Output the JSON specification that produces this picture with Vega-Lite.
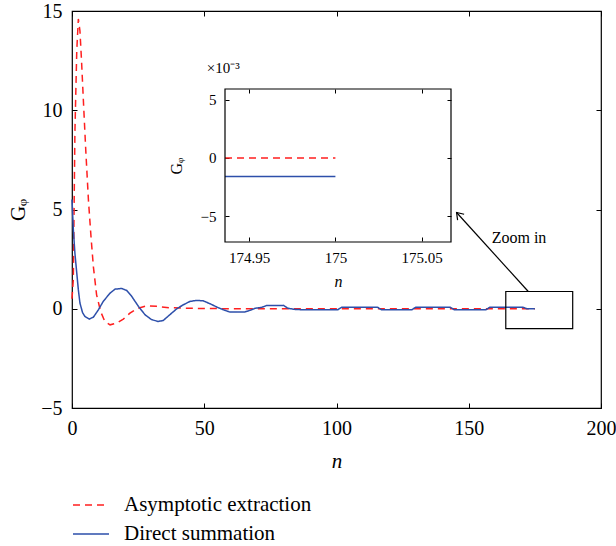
{
  "$schema": "https://vega.github.io/schema/vega-lite/v6.json",
  "autosize": "none",
  "width": 529,
  "height": 397,
  "padding": {"left": 72, "top": 11, "right": 15, "bottom": 138},
  "background": "white",
  "config": {
    "view": {"stroke": "black", "strokeWidth": 1.2},
    "font": "Liberation Serif"
  },
  "datasets": {
    "main": [
      {"series": "Asymptotic extraction", "n": 0, "G": 0.5},
      {"series": "Asymptotic extraction", "n": 0.5, "G": 1.5},
      {"series": "Asymptotic extraction", "n": 1.1, "G": 8.9},
      {"series": "Asymptotic extraction", "n": 1.8, "G": 13},
      {"series": "Asymptotic extraction", "n": 2.4, "G": 14.6},
      {"series": "Asymptotic extraction", "n": 3.0, "G": 14},
      {"series": "Asymptotic extraction", "n": 3.6, "G": 12.5},
      {"series": "Asymptotic extraction", "n": 4.3, "G": 10.5},
      {"series": "Asymptotic extraction", "n": 5.2, "G": 8},
      {"series": "Asymptotic extraction", "n": 6.2, "G": 5.5},
      {"series": "Asymptotic extraction", "n": 7.2, "G": 3.6},
      {"series": "Asymptotic extraction", "n": 8.1, "G": 2.1},
      {"series": "Asymptotic extraction", "n": 9.3, "G": 0.7},
      {"series": "Asymptotic extraction", "n": 10.8, "G": -0.13},
      {"series": "Asymptotic extraction", "n": 12.4, "G": -0.64},
      {"series": "Asymptotic extraction", "n": 14.4, "G": -0.81},
      {"series": "Asymptotic extraction", "n": 16.9, "G": -0.72},
      {"series": "Asymptotic extraction", "n": 19.4, "G": -0.52},
      {"series": "Asymptotic extraction", "n": 21.9, "G": -0.22},
      {"series": "Asymptotic extraction", "n": 24.5, "G": 0},
      {"series": "Asymptotic extraction", "n": 28.2, "G": 0.15},
      {"series": "Asymptotic extraction", "n": 32, "G": 0.12},
      {"series": "Asymptotic extraction", "n": 37, "G": 0.05},
      {"series": "Asymptotic extraction", "n": 45, "G": 0.02},
      {"series": "Asymptotic extraction", "n": 60, "G": 0},
      {"series": "Asymptotic extraction", "n": 175, "G": 0},
      {"series": "Direct summation", "n": 0, "G": 5.5},
      {"series": "Direct summation", "n": 0.5, "G": 4.0},
      {"series": "Direct summation", "n": 1.1, "G": 2.8},
      {"series": "Direct summation", "n": 1.8, "G": 1.8},
      {"series": "Direct summation", "n": 2.4, "G": 0.96},
      {"series": "Direct summation", "n": 3.0, "G": 0.29},
      {"series": "Direct summation", "n": 4.0, "G": -0.2},
      {"series": "Direct summation", "n": 4.9, "G": -0.39},
      {"series": "Direct summation", "n": 6.5, "G": -0.52},
      {"series": "Direct summation", "n": 8.1, "G": -0.42},
      {"series": "Direct summation", "n": 10, "G": -0.05},
      {"series": "Direct summation", "n": 11.8, "G": 0.37},
      {"series": "Direct summation", "n": 14.4, "G": 0.79},
      {"series": "Direct summation", "n": 16.3, "G": 0.99},
      {"series": "Direct summation", "n": 18.8, "G": 1.02},
      {"series": "Direct summation", "n": 20.7, "G": 0.92},
      {"series": "Direct summation", "n": 22.6, "G": 0.62},
      {"series": "Direct summation", "n": 25.1, "G": 0.12},
      {"series": "Direct summation", "n": 27.6, "G": -0.3},
      {"series": "Direct summation", "n": 30.1, "G": -0.55},
      {"series": "Direct summation", "n": 32.6, "G": -0.64},
      {"series": "Direct summation", "n": 34.5, "G": -0.59},
      {"series": "Direct summation", "n": 37, "G": -0.3},
      {"series": "Direct summation", "n": 39.6, "G": 0},
      {"series": "Direct summation", "n": 42.1, "G": 0.2},
      {"series": "Direct summation", "n": 44.6, "G": 0.37},
      {"series": "Direct summation", "n": 47.1, "G": 0.42},
      {"series": "Direct summation", "n": 49.6, "G": 0.4},
      {"series": "Direct summation", "n": 52.2, "G": 0.25},
      {"series": "Direct summation", "n": 54.7, "G": 0.09},
      {"series": "Direct summation", "n": 57.2, "G": -0.05},
      {"series": "Direct summation", "n": 59.7, "G": -0.17},
      {"series": "Direct summation", "n": 62.3, "G": -0.17},
      {"series": "Direct summation", "n": 65.4, "G": -0.16},
      {"series": "Direct summation", "n": 67.3, "G": -0.08},
      {"series": "Direct summation", "n": 69.2, "G": 0.02},
      {"series": "Direct summation", "n": 71.7, "G": 0.07},
      {"series": "Direct summation", "n": 73.5, "G": 0.16},
      {"series": "Direct summation", "n": 80, "G": 0.17},
      {"series": "Direct summation", "n": 81.5, "G": 0.03},
      {"series": "Direct summation", "n": 84, "G": -0.03},
      {"series": "Direct summation", "n": 87, "G": -0.05},
      {"series": "Direct summation", "n": 100.5, "G": -0.05},
      {"series": "Direct summation", "n": 102, "G": 0.08},
      {"series": "Direct summation", "n": 115.5, "G": 0.08},
      {"series": "Direct summation", "n": 117, "G": -0.05},
      {"series": "Direct summation", "n": 128.5, "G": -0.05},
      {"series": "Direct summation", "n": 130, "G": 0.08},
      {"series": "Direct summation", "n": 143, "G": 0.08},
      {"series": "Direct summation", "n": 144.5, "G": -0.05},
      {"series": "Direct summation", "n": 156.5, "G": -0.05},
      {"series": "Direct summation", "n": 158, "G": 0.08},
      {"series": "Direct summation", "n": 170.5, "G": 0.08},
      {"series": "Direct summation", "n": 172, "G": -0.0016},
      {"series": "Direct summation", "n": 175, "G": -0.0016}
    ],
    "inset": [
      {"series": "Asymptotic extraction", "n": 174.936, "G": 0},
      {"series": "Asymptotic extraction", "n": 175, "G": 0},
      {"series": "Direct summation", "n": 174.936, "G": -1.6},
      {"series": "Direct summation", "n": 175, "G": -1.6}
    ],
    "insetFrame": [{"n1": 174.936, "n2": 175.067, "G1": -7.2, "G2": 5.9}],
    "insetNote": [{"label": "×10⁻³", "n": 174.9254, "G": 7.69}],
    "box": [{"n1": 164, "n2": 189.3, "G1": -1, "G2": 0.87}],
    "arrow": [{"n1": 172.5, "G1": 0.87, "n2": 145.4, "G2": 4.85}],
    "note": [{"label": "Zoom in", "n": 169, "G": 3.58}]
  },
  "layer": [
    {
      "layer": [
        {
          "data": {"name": "main"},
          "mark": {"type": "line", "strokeWidth": 1.5},
          "encoding": {
            "x": {
              "field": "n", "type": "quantitative",
              "scale": {"domain": [0, 200], "nice": false, "zero": false},
              "axis": {
                "orient": "bottom", "values": [0, 50, 100, 150, 200], "title": "n",
                "titleFont": "Liberation Serif", "titleFontStyle": "italic", "titleFontWeight": "normal",
                "titleFontSize": 21, "titlePadding": 12, "titleColor": "black",
                "labelFont": "Liberation Serif", "labelFontSize": 20, "labelColor": "black",
                "labelPadding": 10, "labelFlush": false,
                "ticks": false, "domain": false, "grid": false
              }
            },
            "y": {
              "field": "G", "type": "quantitative",
              "scale": {"domain": [-5, 15], "nice": false, "zero": false},
              "axis": {
                "orient": "left", "values": [-5, 0, 5, 10, 15], "title": "Gᵩ",
                "titleFont": "Liberation Serif", "titleFontWeight": "normal",
                "titleFontSize": 21, "titlePadding": 12, "titleColor": "black",
                "labelFont": "Liberation Serif", "labelFontSize": 20, "labelColor": "black",
                "labelPadding": 10, "labelFlush": false,
                "ticks": false, "domain": false, "grid": false
              }
            },
            "color": {
              "field": "series", "type": "nominal",
              "scale": {"domain": ["Asymptotic extraction", "Direct summation"], "range": ["#ff1f1f", "#2d4faa"]},
              "legend": {
                "orient": "none", "legendX": 0, "legendY": 475, "title": null,
                "symbolType": "stroke", "symbolSize": 1296, "symbolStrokeWidth": 1.5,
                "labelFont": "Liberation Serif", "labelFontSize": 21, "labelColor": "black",
                "labelOffset": 14, "rowPadding": -3, "labelLimit": 400
              }
            },
            "strokeDash": {
              "field": "series", "type": "nominal",
              "scale": {"domain": ["Asymptotic extraction", "Direct summation"], "range": [[7, 5], [1, 0]]},
              "legend": {
                "orient": "none", "legendX": 0, "legendY": 475, "title": null,
                "symbolType": "stroke", "symbolSize": 1296, "symbolStrokeWidth": 1.5,
                "labelFont": "Liberation Serif", "labelFontSize": 21, "labelColor": "black",
                "labelOffset": 14, "rowPadding": -3, "labelLimit": 400
              }
            }
          }
        },
        {
          "data": {"name": "box"},
          "mark": {"type": "rect", "fill": null, "fillOpacity": 0, "stroke": "black", "strokeWidth": 1.2},
          "encoding": {
            "x": {"field": "n1", "type": "quantitative",
              "axis": {"orient": "top", "offset": -5, "values": [0, 50, 100, 150, 200], "labels": false, "title": null,
                "tickSize": 5, "tickColor": "black", "domain": false, "grid": false}},
            "x2": {"field": "n2"},
            "y": {"field": "G1", "type": "quantitative",
              "axis": {"orient": "right", "offset": -5, "values": [-5, 0, 5, 10, 15], "labels": false, "title": null,
                "tickSize": 5, "tickColor": "black", "domain": false, "grid": false}},
            "y2": {"field": "G2"}
          }
        },
        {
          "data": {"name": "arrow"},
          "mark": {"type": "rule", "stroke": "black", "strokeWidth": 1.2},
          "encoding": {
            "x": {"field": "n1", "type": "quantitative",
              "axis": {"orient": "bottom", "offset": -5, "values": [0, 50, 100, 150, 200], "labels": false, "title": null,
                "tickSize": 5, "tickColor": "black", "domain": false, "grid": false}},
            "y": {"field": "G1", "type": "quantitative",
              "axis": {"orient": "left", "offset": -5, "values": [-5, 0, 5, 10, 15], "labels": false, "title": null,
                "tickSize": 5, "tickColor": "black", "domain": false, "grid": false}},
            "x2": {"field": "n2"},
            "y2": {"field": "G2"}
          }
        },
        {
          "data": {"name": "arrow"},
          "mark": {"type": "point", "shape": "M-0.55,0.8L0,0L0.55,0.8", "filled": false, "stroke": "black", "strokeWidth": 1.2, "size": 256, "angle": 318, "opacity": 1},
          "encoding": {
            "x": {"field": "n2", "type": "quantitative", "axis": null},
            "y": {"field": "G2", "type": "quantitative", "axis": null}
          }
        },
        {
          "data": {"name": "note"},
          "mark": {"type": "text", "font": "Liberation Serif", "fontSize": 16, "align": "center", "baseline": "middle", "color": "black"},
          "encoding": {
            "x": {"field": "n", "type": "quantitative", "axis": null},
            "y": {"field": "G", "type": "quantitative", "axis": null},
            "text": {"field": "label"}
          }
        }
      ],
      "resolve": {"axis": {"x": "independent", "y": "independent"}}
    },
    {
      "layer": [
        {
          "data": {"name": "inset"},
          "mark": {"type": "line", "strokeWidth": 1.5},
          "encoding": {
            "x": {
              "field": "n", "type": "quantitative",
              "scale": {"domain": [174.936, 175.067], "range": [153, 379], "nice": false, "zero": false},
              "axis": {
                "orient": "bottom", "offset": -166, "values": [174.95, 175, 175.05], "format": "~g",
                "title": "n", "titleFont": "Liberation Serif", "titleFontStyle": "italic", "titleFontWeight": "normal",
                "titleFontSize": 16, "titlePadding": 8, "titleColor": "black",
                "labelFont": "Liberation Serif", "labelFontSize": 15, "labelColor": "black",
                "labelPadding": 8, "labelFlush": false,
                "ticks": false, "domain": false, "grid": false
              }
            },
            "y": {
              "field": "G", "type": "quantitative",
              "scale": {"domain": [-7.2, 5.9], "range": [231, 78], "nice": false, "zero": false},
              "axis": {
                "orient": "left", "offset": -153, "values": [-5, 0, 5],
                "title": "Gᵩ", "titleFont": "Liberation Serif", "titleFontWeight": "normal",
                "titleFontSize": 16, "titlePadding": 16, "titleColor": "black",
                "labelFont": "Liberation Serif", "labelFontSize": 15, "labelColor": "black",
                "labelPadding": 9, "labelFlush": false,
                "ticks": false, "domain": false, "grid": false
              }
            },
            "color": {
              "field": "series", "type": "nominal",
              "scale": {"domain": ["Asymptotic extraction", "Direct summation"], "range": ["#ff1f1f", "#2d4faa"]}
            },
            "strokeDash": {
              "field": "series", "type": "nominal",
              "scale": {"domain": ["Asymptotic extraction", "Direct summation"], "range": [[7, 5], [1, 0]]}
            }
          }
        },
        {
          "data": {"name": "insetFrame"},
          "mark": {"type": "rect", "fill": null, "fillOpacity": 0, "stroke": "black", "strokeWidth": 1.2},
          "encoding": {
            "x": {"field": "n1", "type": "quantitative",
              "axis": {"orient": "bottom", "offset": -171, "values": [174.95, 175, 175.05], "labels": false, "title": null,
                "tickSize": 4, "tickColor": "black", "domain": false, "grid": false}},
            "x2": {"field": "n2"},
            "y": {"field": "G1", "type": "quantitative",
              "axis": {"orient": "left", "offset": -157, "values": [-5, 0, 5], "labels": false, "title": null,
                "tickSize": 4, "tickColor": "black", "domain": false, "grid": false}},
            "y2": {"field": "G2"}
          }
        },
        {
          "data": {"name": "insetNote"},
          "mark": {"type": "text", "font": "Liberation Serif", "fontSize": 15, "align": "left", "baseline": "middle", "color": "black"},
          "encoding": {
            "x": {"field": "n", "type": "quantitative",
              "axis": {"orient": "top", "offset": -82, "values": [174.95, 175, 175.05], "labels": false, "title": null,
                "tickSize": 4, "tickColor": "black", "domain": false, "grid": false}},
            "y": {"field": "G", "type": "quantitative",
              "axis": {"orient": "right", "offset": -154, "values": [-5, 0, 5], "labels": false, "title": null,
                "tickSize": 4, "tickColor": "black", "domain": false, "grid": false}},
            "text": {"field": "label"}
          }
        }
      ],
      "resolve": {"axis": {"x": "independent", "y": "independent"}}
    }
  ],
  "resolve": {"scale": {"x": "independent", "y": "independent"}}
}
